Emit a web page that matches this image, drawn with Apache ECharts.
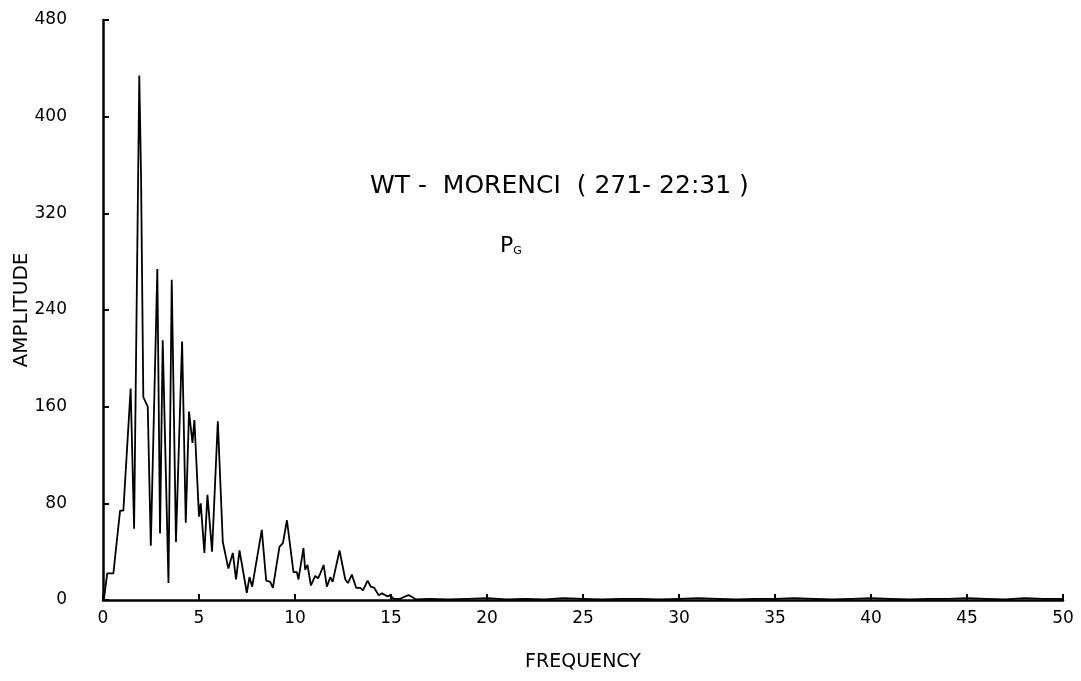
<!DOCTYPE html>
<html>
<head>
<meta charset="utf-8">
<style>
  html, body { margin: 0; padding: 0; background: #fff; }
  #chart { width: 1081px; height: 681px; }
</style>
<script src="https://cdn.jsdelivr.net/npm/echarts@6/dist/echarts.min.js"></script>
</head>
<body>
<div id="chart"></div>
<script>
// spectrum, frequency / amplitude pairs
const freq = [0.05, 0.22, 0.54, 0.89, 1.06, 1.44, 1.62, 1.89, 1.98, 2.1, 2.33, 2.49, 2.83, 2.97, 3.11, 3.41, 3.58, 3.8,
  4.12, 4.31, 4.48, 4.66, 4.76, 5.0, 5.09, 5.28, 5.44, 5.68, 5.98, 6.24, 6.53, 6.76, 6.93, 7.11, 7.49, 7.63, 7.77,
  8.27, 8.5, 8.71, 8.85, 9.19, 9.37, 9.58, 9.92, 10.1, 10.18, 10.44, 10.53, 10.65, 10.83, 11.05, 11.2, 11.32, 11.49,
  11.66, 11.84, 11.96, 12.32, 12.62, 12.76, 12.96, 13.19, 13.4, 13.54, 13.78, 13.95, 14.13, 14.36, 14.53, 14.82,
  14.96, 15.13, 15.48, 15.75, 15.92, 16.1, 16.3]
const amp = [1, 22, 22, 74, 74, 175, 59, 434, 353, 168, 160, 45, 274, 55, 215, 14, 265, 48,
  214, 64, 156, 130, 149, 69, 80, 39, 87, 40, 148, 48, 26, 39, 17, 41, 6, 19, 11,
  58, 16, 15, 10, 44, 47, 66, 23, 23, 17, 43, 25, 29, 12, 20, 18, 22, 29,
  11, 19, 15, 41, 17, 14, 21, 10, 10, 8, 16, 11, 10, 4, 5.5, 3,
  4, 1, 1, 3, 4, 2.5, 0.5]
// near-zero tail
const tailFreq = [17, 18, 19, 20, 21, 22, 23, 24, 25, 26, 27, 28, 29, 30, 31, 32, 33, 34, 35, 36, 37, 38, 39, 40,
  41, 42, 43, 44, 45, 46, 47, 48, 49, 50]
const tailAmp = [1, 0.5, 1, 1.5, 0.5, 1, 0.5, 1.5, 1, 0.5, 1, 1, 0.5, 1, 1.5, 1, 0.5, 1, 1, 1.5, 1, 0.5, 1, 1.5,
  1, 0.5, 1, 1, 1.5, 1, 0.5, 1.5, 1, 1]

const yTicks = [0, 80, 160, 240, 320, 400, 480]
const xTicks = [0, 5, 10, 15, 20, 25, 30, 35, 40, 45, 50]

const points = freq.map((f, i) => [f, amp[i]]).concat(tailFreq.map((f, i) => [f, tailAmp[i]]))

const font = 'DejaVu Sans'
const chart = echarts.init(document.getElementById('chart'))
chart.setOption({
  animation: false,
  backgroundColor: '#fff',
  grid: { left: 103, right: 18, top: 20, bottom: 81, outerBoundsMode: 'none' },
  xAxis: {
    type: 'value',
    min: xTicks[0],
    max: xTicks[xTicks.length - 1],
    interval: 5,
    name: 'FREQUENCY',
    nameLocation: 'middle',
    nameGap: 53,
    nameMoveOverlap: false,
    nameTextStyle: { color: '#000', fontFamily: font, fontSize: 19 },
    axisLine: { lineStyle: { color: '#000', width: 2.5 } },
    axisTick: { inside: true, length: 6, lineStyle: { color: '#000', width: 2 } },
    axisLabel: { color: '#000', fontFamily: font, fontSize: 17, margin: 10 },
    splitLine: { show: false }
  },
  yAxis: {
    type: 'value',
    min: yTicks[0],
    max: yTicks[yTicks.length - 1],
    interval: 80,
    name: 'AMPLITUDE',
    nameLocation: 'middle',
    nameRotate: 90,
    nameGap: 71,
    nameMoveOverlap: false,
    nameTextStyle: { color: '#000', fontFamily: font, fontSize: 20 },
    axisLine: { show: true, lineStyle: { color: '#000', width: 2.5 } },
    axisTick: { show: true, inside: true, length: 6, lineStyle: { color: '#000', width: 2 } },
    axisLabel: { color: '#000', fontFamily: font, fontSize: 17, margin: 36 },
    splitLine: { show: false }
  },
  graphic: [
    {
      type: 'text',
      left: 370,
      top: 174,
      style: { text: 'WT -  MORENCI  ( 271- 22:31 )', fill: '#000', font: '25px "DejaVu Sans"' }
    },
    {
      type: 'text',
      left: 500,
      top: 235,
      style: {
        text: '{p|P}{g|G}',
        rich: {
          p: { fill: '#000', fontFamily: font, fontSize: 22 },
          g: { fill: '#000', fontFamily: font, fontSize: 11, verticalAlign: 'bottom', padding: [10, 0, 0, 0] }
        }
      }
    }
  ],
  series: [
    {
      type: 'line',
      data: points,
      symbol: 'none',
      lineStyle: { color: '#000', width: 1.8 },
      z: 3
    }
  ]
})
</script>
</body>
</html>
